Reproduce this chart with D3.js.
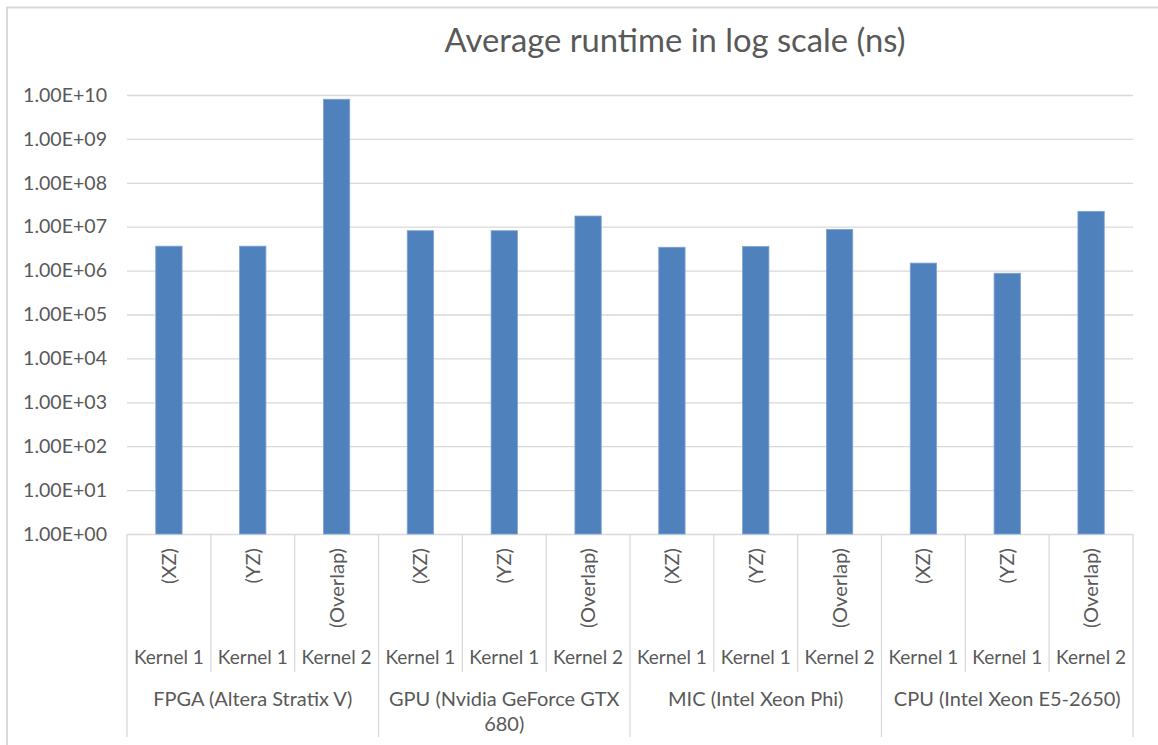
<!DOCTYPE html>
<html>
<head>
<meta charset="utf-8">
<script src="https://cdn.jsdelivr.net/npm/d3@7"></script>
<style>
  html, body { margin: 0; padding: 0; background: #fff; }
  svg { display: block; }
  text { font-family: Lato, "Open Sans", sans-serif; fill: #595959; }
</style>
</head>
<body>
<svg id="chart" width="1158" height="745"></svg>
<script>
// ---- data ----
const groups = ["FPGA (Altera Stratix V)", "GPU (Nvidia GeForce GTX 680)", "MIC (Intel Xeon Phi)", "CPU (Intel Xeon E5-2650)"];
const kernels = ["Kernel 1", "Kernel 1", "Kernel 2"];
const variants = ["(XZ)", "(YZ)", "(Overlap)"];
const runtimes = [3.6e6, 3.6e6, 8.0e9, 8.1e6, 8.1e6, 1.75e7, 3.4e6, 3.55e6, 8.7e6, 1.48e6, 8.7e5, 2.24e7];
const yTicks = [1, 1e1, 1e2, 1e3, 1e4, 1e5, 1e6, 1e7, 1e8, 1e9, 1e10];
const chartTitle = "Average runtime in log scale (ns)";

const rows = runtimes.map((v, i) => ({
  i, value: v,
  group: groups[Math.floor(i / 3)],
  kernel: kernels[i % 3],
  variant: variants[i % 3]
}));

// ---- layout ----
const svg = d3.select("#chart");
const plotL = 127, plotR = 1133, plotT = 95, plotB = 534;
const gridColor = "#D9D9D9";

// outer chart border (only top/left visible in crop)
svg.append("rect").attr("x", 7).attr("y", 7.5).attr("width", 1300).attr("height", 900)
  .attr("fill", "none").attr("stroke", gridColor).attr("stroke-width", 2);

const x = d3.scaleBand().domain(rows.map(d => d.i)).range([plotL, plotR])
  .paddingInner(0.686).paddingOuter(0.343);
const step = x.step();
const y = d3.scaleLog().domain([1, 1e10]).range([plotB, plotT]);

function fmt(v) {
  const s = d3.format(".2e")(v); // e.g. 1.00e+0
  const m = s.match(/^(-?[\d.]+)e([+-])(\d+)$/);
  return m[1] + "E" + m[2] + m[3].padStart(2, "0");
}

// fit a font size so that a sample text hits a target width
function fitSize(sample, target, base) {
  const t = svg.append("text").attr("font-size", base).text(sample);
  const w = t.node().getComputedTextLength();
  t.remove();
  return base * target / w;
}
const fsTitle = fitSize(chartTitle, 461, 30);
const fsY = fitSize("1.00E+03", 84, 18);
const fsKernel = fitSize("Kernel 1", 70, 18);
const fsRot = fitSize("(Overlap)", 80, 18);
const fsGroup = fitSize("CPU (Intel Xeon E5-2650)", 227, 18);

// gridlines + y axis
const yAxis = d3.axisLeft(y).tickValues(yTicks).tickFormat(fmt).tickSize(-(plotR - plotL)).tickPadding(20);
const gy = svg.append("g").attr("transform", `translate(${plotL},0)`).call(yAxis);
gy.select(".domain").remove();
gy.selectAll(".tick line").attr("stroke", gridColor).attr("stroke-width", 1.3);
gy.selectAll(".tick text").attr("font-size", fsY).attr("fill", "#595959")
  .attr("font-family", "Lato, 'Open Sans', sans-serif").attr("x", 107 - plotL);

// bars
svg.append("g").selectAll("rect").data(rows).join("rect")
  .attr("x", d => x(d.i)).attr("width", x.bandwidth())
  .attr("y", d => y(d.value)).attr("height", d => y(1) - y(d.value))
  .attr("fill", "#4F81BD").attr("stroke", "#7DA2D1").attr("stroke-width", 0.8);

// category dividers
const cat = svg.append("g");
const bounds = d3.range(0, rows.length + 1);
cat.selectAll("line").data(bounds).join("line")
  .attr("x1", k => plotL + k * step).attr("x2", k => plotL + k * step)
  .attr("y1", plotB).attr("y2", k => (k % 3 === 0 ? 737 : 672))
  .attr("stroke", gridColor).attr("stroke-width", 1.3);

// rotated variant labels
cat.selectAll("text.var").data(rows).join("text").attr("class", "var")
  .attr("transform", d => `translate(${x(d.i) + x.bandwidth() / 2 + 0.35 * fsRot},548) rotate(-90)`)
  .attr("text-anchor", "end").attr("font-size", fsRot).text(d => d.variant);

// kernel labels
cat.selectAll("text.ker").data(rows).join("text").attr("class", "ker")
  .attr("x", d => x(d.i) + x.bandwidth() / 2).attr("y", 664)
  .attr("text-anchor", "middle").attr("font-size", fsKernel).text(d => d.kernel);

// group labels (wrapped)
const maxW = 3 * step - 20;
groups.forEach((g, gi) => {
  const cx = plotL + (gi * 3 + 1.5) * step;
  const t = cat.append("text").attr("x", cx).attr("y", 706)
    .attr("text-anchor", "middle").attr("font-size", fsGroup);
  const words = g.split(" ");
  let line = [];
  let ts = t.append("tspan").attr("x", cx).attr("dy", 0);
  words.forEach(w => {
    line.push(w);
    ts.text(line.join(" "));
    if (ts.node().getComputedTextLength() > maxW && line.length > 1) {
      line.pop();
      ts.text(line.join(" "));
      line = [w];
      ts = t.append("tspan").attr("x", cx).attr("dy", 25).text(w);
    }
  });
});

// title
svg.append("text").attr("x", 675).attr("y", 52).attr("text-anchor", "middle")
  .attr("font-size", fsTitle).text(chartTitle);
</script>
</body>
</html>
